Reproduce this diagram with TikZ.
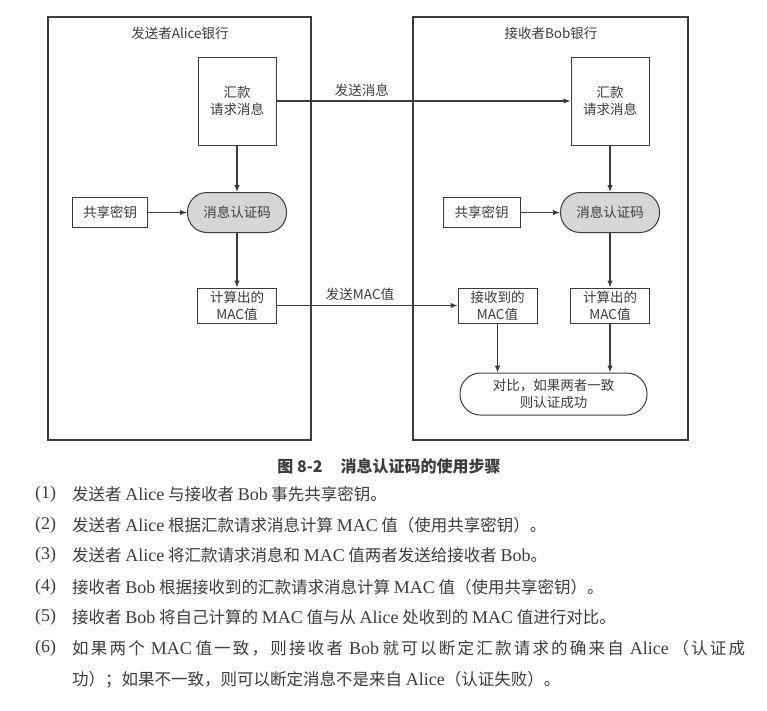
\documentclass[tikz,border=0pt]{standalone}
\usepackage{fontspec}
\setmainfont{Noto Sans CJK SC}
\newfontfamily\rmlat{Liberation Serif}
\usetikzlibrary{arrows.meta}
\definecolor{gris}{RGB}{60,60,60}
\definecolor{grisclair}{RGB}{214,214,214}
\newcommand{\lat}[1]{{\rmlat\fontsize{18}{20}\selectfont #1}}
% ligne justifiee : colle entre les ideogrammes
\makeatletter
\def\espace#1{\esp@#1\@nil}
\def\esp@#1{\ifx\@nil#1\else#1\hskip 0pt plus 1fil\relax\expandafter\esp@\fi}
\makeatother
\tikzset{
  banque/.style={draw=gris, line width=1.3pt, inner sep=0pt},
  boite/.style={draw=gris, line width=1pt, fill=white, inner sep=0pt, align=center},
  capsule/.style={boite, fill=grisclair},
  fleche/.style={draw=gris, line width=1.1pt, -{Latex[length=7pt,width=5.5pt]}},
  liste/.style={anchor=west, inner sep=0pt, font=\fontsize{16.5}{20}\selectfont},
}

\begin{document}
\begin{tikzpicture}[x=1pt, y=-1pt, text=gris, font=\fontsize{13.5}{17}\selectfont]
\useasboundingbox (0,0) rectangle (767,710);
% les deux banques
\node[banque, minimum width=263, minimum height=423] (alice) at (179.5,228.5) {};
\node[banque, minimum width=275, minimum height=423] (bob) at (550.5,228.5) {};
\node (titreA) at (180,33) {发送者Alice银行};
\node (titreB) at (551,33) {接收者Bob银行};

% cote Alice
\node[boite, minimum width=78, minimum height=88] (msgA) at (237,101) {汇款\\请求消息};
\node[capsule, minimum width=99, minimum height=40, rounded corners=19.5pt] (macA) at (237,212.5) {消息认证码};
\node[boite, minimum width=75, minimum height=30] (cleA) at (110,212.5) {共享密钥};
\node[boite, minimum width=79, minimum height=35] (valA) at (237,305.5) {计算出的\\MAC值};

% cote Bob
\node[boite, minimum width=78, minimum height=88] (msgB) at (610,101) {汇款\\请求消息};
\node[capsule, minimum width=99, minimum height=40, rounded corners=19.5pt] (macB) at (610,212.5) {消息认证码};
\node[boite, minimum width=77, minimum height=30] (cleB) at (481.5,212.5) {共享密钥};
\node[boite, minimum width=79, minimum height=35] (recu) at (497.5,305.5) {接收到的\\MAC值};
\node[boite, minimum width=79, minimum height=35] (valB) at (610,305.5) {计算出的\\MAC值};
\node[boite, minimum width=187, minimum height=42, rounded corners=20.5pt] (comp) at (553.5,394) {对比，如果两者一致\\则认证成功};

\draw[fleche] (msgA) -- (macA);
\draw[fleche] (cleA) -- (macA);
\draw[fleche] (macA) -- (valA);
\draw[fleche] (msgA) -- (msgB) node[pos=0.29, above=1pt] {发送消息};
\draw[fleche] (valA) -- (recu) node[pos=0.46, above=1pt] {发送MAC值};
\draw[fleche] (msgB) -- (macB);
\draw[fleche] (cleB) -- (macB);
\draw[fleche] (macB) -- (valB);
\draw[fleche] (recu) -- (recu |- comp.north);
\draw[fleche] (valB) -- (valB |- comp.north);

% legende et etapes
\node[font=\fontsize{16}{18}\selectfont\bfseries] (legende) at (389,466) {图 8-2\hspace{18pt}消息认证码的使用步骤};
\foreach \n/\y in {1/494, 2/525, 3/555, 4/587, 5/617, 6/648}
  \node[liste] (num\n) at (35,\y) {\lat{(\n)}};
\node[liste] (etape1) at (72,494) {发送者 \lat{Alice} 与接收者 \lat{Bob} 事先共享密钥。};
\node[liste] (etape2) at (72,525) {发送者 \lat{Alice} 根据汇款请求消息计算 \lat{MAC} 值（使用共享密钥）。};
\node[liste] (etape3) at (72,555) {发送者 \lat{Alice} 将汇款请求消息和 \lat{MAC} 值两者发送给接收者 \lat{Bob}。};
\node[liste] (etape4) at (72,587) {接收者 \lat{Bob} 根据接收到的汇款请求消息计算 \lat{MAC} 值（使用共享密钥）。};
\node[liste] (etape5) at (72,617) {接收者 \lat{Bob} 将自己计算的 \lat{MAC} 值与从 \lat{Alice} 处收到的 \lat{MAC} 值进行对比。};
\node[liste] (etape6) at (72,648) {\makebox[673pt][s]{\espace{如果两个} \lat{MAC} \espace{值一致，则接收者} \lat{Bob} \espace{就可以断定汇款请求的确来自} \lat{Alice} \espace{（认证}成}};
\node[liste] (suite6) at (72,680) {功）；如果不一致，则可以断定消息不是来自 \lat{Alice}（认证失败）。};
\end{tikzpicture}
\end{document}
